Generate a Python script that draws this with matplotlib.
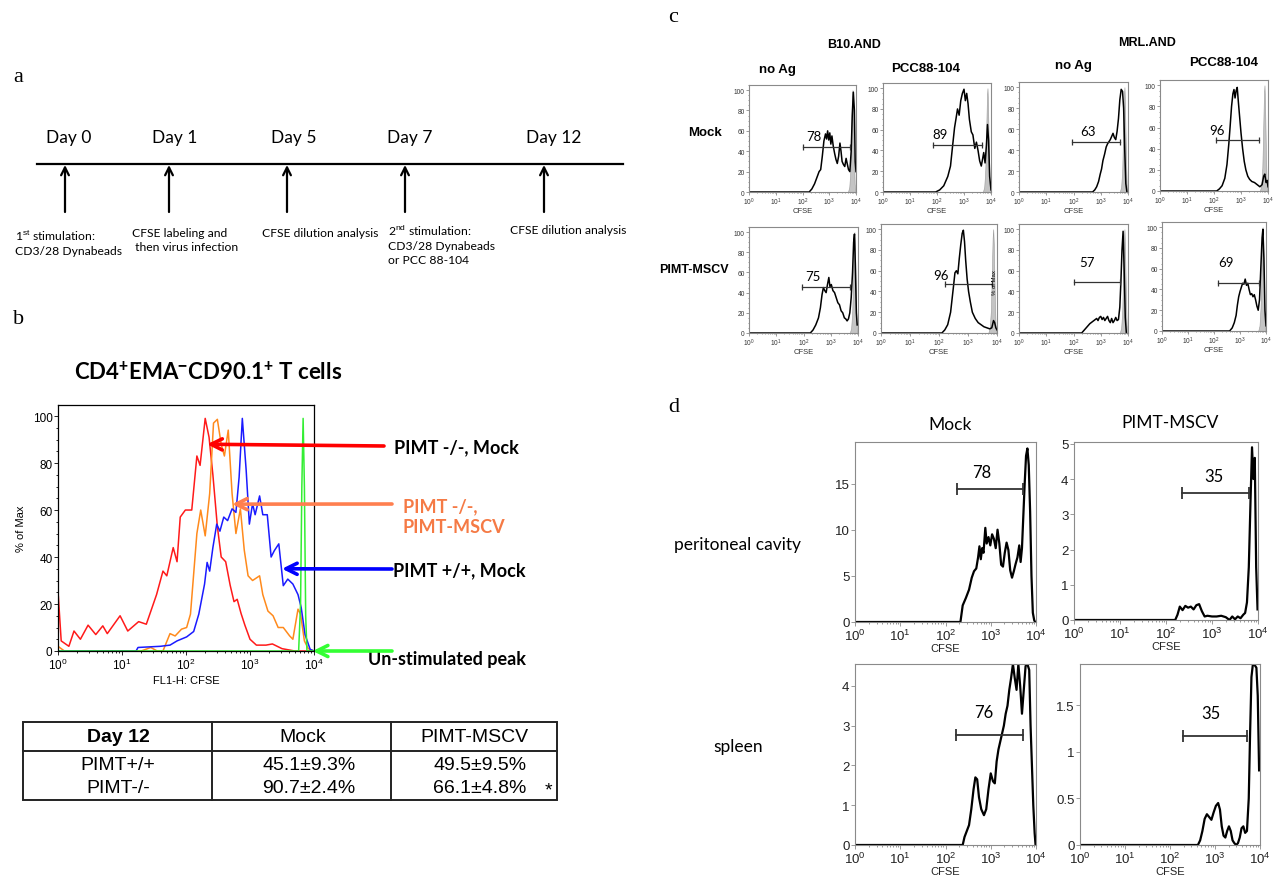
import numpy as np
import matplotlib
matplotlib.use("Agg")
import matplotlib.pyplot as plt
from matplotlib.patches import Rectangle
from matplotlib.ticker import LogLocator, NullFormatter, FuncFormatter, MultipleLocator

plt.rcParams['font.family'] = ['Liberation Sans', 'DejaVu Sans']
plt.rcParams['mathtext.fontset'] = 'custom'
plt.rcParams['mathtext.rm'] = 'Liberation Sans'
plt.rcParams['mathtext.it'] = 'Liberation Sans:italic'
plt.rcParams['mathtext.bf'] = 'Liberation Sans:bold'

CAL = 'Lato'
SERIF = 'Liberation Serif'

# ---- panel a: timeline ----
A_DAYS = ['Day 0', 'Day 1', 'Day 5', 'Day 7', 'Day 12']
A_NOTES = ['1$^{\\rm st}$ stimulation:\nCD3/28 Dynabeads',
           'CFSE labeling and\n then virus infection',
           'CFSE dilution analysis',
           '2$^{\\rm nd}$ stimulation:\nCD3/28 Dynabeads\nor PCC 88-104',
           'CFSE dilution analysis']

# ---- panel b: overlaid CFSE histograms (log10 CFSE, % of max) ----
B_RED_LX = [0.0, 0.005, 0.05, 0.17, 0.25, 0.35, 0.47, 0.59, 0.70, 0.77, 0.97, 1.09, 1.26, 1.38,
            1.54, 1.64, 1.70, 1.80, 1.86, 1.91, 1.99, 2.09, 2.17, 2.22, 2.30, 2.36, 2.42, 2.49,
            2.55, 2.62, 2.69, 2.75, 2.80, 2.86, 2.92, 3.00, 3.10, 3.25, 3.35, 3.50, 3.70, 4.00]
B_RED_Y = [0, 23.5, 4.3, 2, 8.5, 5, 11, 7, 10.7, 7.4, 15, 8.5, 12.5, 11.4,
           24, 34, 32, 44, 38, 57, 60, 60, 83, 79, 99, 91, 75, 53,
           40, 38, 28, 21, 22, 16, 11, 5, 2.5, 2.5, 3, 1, 0, 0]
B_ORANGE_LX = [0.0, 0.05, 0.1, 1.3, 1.45, 1.55, 1.64, 1.75, 1.83, 1.93, 2.01, 2.07, 2.17, 2.23,
               2.30, 2.37, 2.43, 2.49, 2.55, 2.60, 2.66, 2.72, 2.78, 2.85, 2.91, 2.97, 3.04, 3.15,
               3.20, 3.28, 3.36, 3.44, 3.52, 3.62, 3.67, 3.75, 3.79, 3.85, 3.91, 4.0]
B_ORANGE_Y = [2, 1, 0, 0, 1.5, 0, 0, 7.4, 6.4, 9.3, 10, 15.7, 50, 60,
              49, 67, 97, 98.6, 88, 83, 94, 67, 50, 60.5, 43, 32, 30, 32,
              24, 17, 15, 10, 10, 6.4, 5, 17.8, 15.7, 4.3, 1, 0]
B_BLUE_LX = [0.0, 1.22, 1.25, 1.6, 1.75, 1.86, 2.01, 2.12, 2.20, 2.29, 2.33, 2.37, 2.42, 2.48,
             2.53, 2.59, 2.65, 2.72, 2.78, 2.83, 2.88, 2.94, 2.99, 3.04, 3.08, 3.15, 3.20, 3.27,
             3.33, 3.38, 3.45, 3.52, 3.59, 3.67, 3.75, 3.80, 3.86, 3.94, 4.0]
B_BLUE_Y = [0, 0, 1.5, 2, 2.5, 4.3, 6, 8.3, 15.7, 28.5, 37.7, 34, 44, 54,
            51, 57, 55.5, 60.5, 59, 74, 99, 77, 54, 62.7, 58, 66, 58, 58,
            40, 42.7, 45.6, 27.8, 30.6, 28.5, 24, 18.5, 7, 0.7, 0]
B_GREEN_LX = [0.0, 3.76, 3.79, 3.81, 3.83, 3.85, 3.87, 3.89, 4.0]
B_GREEN_Y = [0, 0, 20, 70, 99, 70, 15, 0, 0]
B_LABELS = ['PIMT -/-, Mock', 'PIMT -/-,\nPIMT-MSCV', 'PIMT +/+, Mock', 'Un-stimulated peak']

# ---- table ----
T_HEAD = ['Day 12', 'Mock', 'PIMT-MSCV']
T_ROWS = ['PIMT+/+', 'PIMT-/-']
T_MOCK = ['45.1\u00b19.3%', '90.7\u00b12.4%']
T_MSCV = ['49.5\u00b19.5%', '66.1\u00b14.8%']
T_MARK = ['', '*']

# ---- panel c: 2x4 grid of CFSE histograms ----
C_STRAINS = ['B10.AND', 'MRL.AND']
C_STIM = ['no Ag', 'PCC88-104', 'no Ag', 'PCC88-104']
C_ROWS = ['Mock', 'PIMT-MSCV']
C1_LX = [0, 2.25, 2.35, 2.45, 2.55, 2.62, 2.68, 2.74, 2.8, 2.86, 2.9, 2.94, 2.98, 3.02, 3.06, 3.1,
         3.15, 3.2, 3.25, 3.3, 3.35, 3.4, 3.44, 3.48, 3.53, 3.58, 3.63, 3.67, 3.72, 3.77, 3.82,
         3.86, 3.9, 3.94, 3.97, 4.0]
C1_Y = [0, 0, 3, 8, 15, 20, 22, 35, 50, 57, 52, 60, 51, 58, 47, 55,
        45, 38, 32, 28, 35, 48, 40, 30, 27, 25, 33, 28, 22, 20, 40,
        75, 98, 80, 30, 20]
C2_LX = [0, 1.95, 2.1, 2.25, 2.4, 2.5, 2.58, 2.65, 2.7, 2.76, 2.82, 2.88, 2.94, 3.0, 3.05, 3.1,
         3.15, 3.2, 3.27, 3.33, 3.4, 3.46, 3.52, 3.58, 3.64, 3.69, 3.73, 3.78, 3.83, 3.87, 3.91,
         3.95, 4.0]
C2_Y = [0, 0, 2, 6, 15, 25, 45, 62, 70, 80, 74, 88, 95, 99, 88, 95,
        85, 70, 58, 55, 42, 48, 40, 30, 25, 32, 38, 28, 45, 65, 50,
        15, 2]
C3_LX = [0, 2.7, 2.78, 2.85, 2.92, 2.98, 3.03, 3.08, 3.14, 3.2, 3.25, 3.3, 3.35, 3.4, 3.45, 3.5,
         3.55, 3.6, 3.65, 3.7, 3.75, 3.8, 3.84, 3.88, 3.92, 3.96]
C3_Y = [0, 0, 2, 5, 10, 17, 22, 30, 36, 43, 46, 48, 50, 53, 56, 52,
        50, 58, 70, 88, 98, 96, 80, 40, 8, 0]
C4_LX = [0, 2.1, 2.2, 2.3, 2.4, 2.48, 2.55, 2.6, 2.65, 2.7, 2.74, 2.78, 2.82, 2.86, 2.9, 2.95,
         3.0, 3.06, 3.12, 3.18, 3.25, 3.32, 3.4, 3.5, 3.6, 3.7, 3.78, 3.84, 3.88, 3.93, 3.97, 4.0]
C4_Y = [0, 0, 2, 5, 12, 25, 45, 62, 80, 92, 96, 88, 95, 98, 85, 70,
        55, 40, 28, 20, 14, 11, 9, 8, 6, 4, 6, 14, 16, 8, 10, 4]
C5_LX = [0, 2.25, 2.35, 2.45, 2.55, 2.62, 2.68, 2.73, 2.78, 2.83, 2.88, 2.93, 2.97, 3.02, 3.08,
         3.14, 3.2, 3.26, 3.32, 3.38, 3.44, 3.5, 3.55, 3.6, 3.65, 3.7, 3.75, 3.8, 3.84, 3.87, 3.9,
         3.94, 3.97]
C5_Y = [0, 0, 3, 8, 15, 25, 38, 45, 42, 40, 48, 55, 46, 48, 42,
        40, 35, 30, 28, 22, 20, 15, 14, 12, 14, 20, 35, 60, 90, 98, 70,
        20, 8]
C6_LX = [0, 2.1, 2.2, 2.3, 2.4, 2.5, 2.55, 2.6, 2.65, 2.7, 2.75, 2.8, 2.84, 2.88, 2.92, 2.97,
         3.02, 3.08, 3.15, 3.25, 3.35, 3.45, 3.55, 3.65, 3.75, 3.82, 3.88, 3.92, 3.96, 4.0]
C6_Y = [0, 0, 3, 8, 20, 45, 58, 60, 57, 72, 85, 96, 99, 88, 70, 52,
        40, 30, 20, 14, 10, 8, 6, 5, 4, 5, 12, 10, 5, 3]
C7_LX = [0, 2.3, 2.4, 2.5, 2.6, 2.7, 2.8, 2.85, 2.9, 2.95, 3.0, 3.05, 3.1, 3.15, 3.2, 3.25,
         3.3, 3.35, 3.4, 3.45, 3.5, 3.55, 3.6, 3.65, 3.7, 3.74, 3.78, 3.82, 3.86, 3.9, 3.94]
C7_Y = [0, 0, 3, 6, 9, 11, 13, 14, 12, 15, 16, 13, 15, 12, 14, 16,
        12, 10, 14, 10, 12, 15, 12, 13, 25, 50, 80, 98, 60, 15, 0]
C8_LX = [0, 2.6, 2.7, 2.78, 2.85, 2.9, 2.95, 3.0, 3.05, 3.1, 3.15, 3.2, 3.25, 3.3, 3.35, 3.4,
         3.45, 3.5, 3.55, 3.6, 3.65, 3.7, 3.75, 3.8, 3.85, 3.88, 3.92, 3.96, 4.0]
C8_Y = [0, 0, 3, 8, 15, 25, 33, 38, 42, 46, 45, 50, 44, 46, 40, 35,
        36, 33, 35, 30, 24, 20, 30, 60, 90, 98, 70, 20, 5]
C_PCT = ['78', '89', '63', '96', '75', '96', '57', '69']
C_PCT_LX = [2.41, 2.13, 2.55, 2.1, 2.35, 2.07, 2.51, 2.45]
C_PCT_Y = [55, 56, 58, 58, 56, 56, 68, 66]
C_GATE_LO = [2.0, 1.87, 1.96, 2.08, 1.95, 2.2, 2.0, 2.17]
C_GATE_HI = [3.77, 3.66, 3.72, 3.68, 3.7, 3.83, 3.7, 3.72]
C_GATE_Y = [44, 45, 48, 48, 46, 47, 49, 46]
UNSTIM_LX = [3.70, 3.75, 3.79, 3.82, 3.85, 3.87, 3.89, 3.92, 3.95, 3.98]
UNSTIM_Y = [0, 5, 22, 55, 92, 100, 85, 40, 8, 0]

# ---- panel d: in vivo CFSE histograms ----
D_COLS = ['Mock', 'PIMT-MSCV']
D_ROWS = ['peritoneal cavity', 'spleen']
D1_LX = [0, 2.33, 2.38, 2.45, 2.52, 2.58, 2.63, 2.68, 2.72, 2.75, 2.78, 2.81, 2.84, 2.88, 2.91,
         2.95, 2.99, 3.03, 3.07, 3.11, 3.15, 3.19, 3.23, 3.27, 3.31, 3.35, 3.39, 3.43, 3.47, 3.51,
         3.55, 3.59, 3.63, 3.66, 3.69, 3.72, 3.75, 3.78, 3.81, 3.84, 3.87, 3.9, 3.93, 3.96, 3.98]
D1_Y = [0, 0, 1.8, 2.6, 3.5, 4.8, 5.5, 5.8, 7.0, 8.2, 6.8, 8.0, 7.5, 10.2, 8.5,
        9.2, 8.3, 9.5, 9.0, 8.0, 10.0, 8.5, 6.2, 6.0, 7.5, 8.6, 7.8, 5.6, 4.8, 5.5,
        6.3, 7.0, 8.3, 6.5, 8.0, 11.5, 15.0, 18.0, 18.8, 17.0, 12.0, 5.0, 1.0, 0.2, 0]
D2_LX = [0, 2.2, 2.25, 2.3, 2.36, 2.42, 2.48, 2.54, 2.6, 2.66, 2.72, 2.78, 2.84, 2.9, 3.0, 3.1,
         3.2, 3.3, 3.38, 3.44, 3.5, 3.56, 3.62, 3.68, 3.72, 3.76, 3.8, 3.84, 3.87, 3.9, 3.93,
         3.96, 3.99]
D2_Y = [0, 0, 0.15, 0.38, 0.28, 0.4, 0.35, 0.38, 0.3, 0.42, 0.45, 0.25, 0.1, 0.12, 0.1, 0.1,
        0.12, 0.08, 0.0, 0.1, 0.02, 0.1, 0.05, 0.15, 0.2, 0.5, 1.5, 3.5, 4.9, 4.0, 4.6,
        1.5, 0.3]
D3_LX = [0, 2.38, 2.42, 2.47, 2.52, 2.57, 2.62, 2.66, 2.7, 2.74, 2.79, 2.85, 2.9, 2.95, 3.0,
         3.05, 3.09, 3.13, 3.17, 3.21, 3.25, 3.29, 3.33, 3.37, 3.41, 3.45, 3.49, 3.53, 3.57,
         3.61, 3.65, 3.69, 3.73, 3.77, 3.81, 3.85, 3.88, 3.91, 3.94, 3.97, 3.99]
D3_Y = [0, 0, 0.2, 0.35, 0.5, 0.9, 1.4, 1.7, 1.65, 1.2, 0.9, 0.75, 0.9, 1.4, 1.8,
        1.6, 1.55, 2.1, 2.4, 2.6, 2.8, 3.0, 3.3, 3.5, 3.9, 4.2, 4.55, 4.2, 3.9,
        4.55, 4.0, 3.3, 3.9, 4.5, 4.55, 4.4, 3.0, 2.0, 1.0, 0.3, 0.0]
D4_LX = [0, 2.62, 2.67, 2.72, 2.77, 2.82, 2.87, 2.92, 2.97, 3.02, 3.07, 3.11, 3.15, 3.19, 3.23,
         3.27, 3.31, 3.35, 3.39, 3.43, 3.47, 3.51, 3.55, 3.59, 3.63, 3.67, 3.71, 3.75, 3.78, 3.81,
         3.84, 3.88, 3.92, 3.95, 3.98]
D4_Y = [0, 0, 0.05, 0.15, 0.28, 0.33, 0.3, 0.27, 0.35, 0.42, 0.45, 0.38, 0.2, 0.1, 0.08,
        0.15, 0.2, 0.15, 0.05, 0.02, 0.0, 0.02, 0.08, 0.18, 0.2, 0.13, 0.15, 0.5, 1.2, 1.8,
        1.93, 1.93, 1.9, 1.6, 0.8]
D_PCT = ['78', '35', '76', '35']
D_PCT_LX = [2.81, 3.05, 2.84, 2.9]
D_PCT_Y = [16.2, 4.08, 3.34, 1.42]
D_GATE_LO = [2.26, 2.35, 2.23, 2.28]
D_GATE_HI = [3.71, 3.8, 3.71, 3.72]
D_GATE_Y = [14.4, 3.59, 2.77, 1.17]

W, H = 1274, 879
fig = plt.figure(figsize=(W / 100, H / 100), dpi=100)
ov = fig.add_axes([0, 0, 1, 1])
ov.set_xlim(0, W)
ov.set_ylim(H, 0)
ov.axis('off')


def box(l, t, r, b):
    return fig.add_axes([l / W, 1 - b / H, (r - l) / W, (b - t) / H])


def flow_axes(rect, ytop, yticks, fs, edge, minor_y=None):
    ax = box(*rect)
    ax.set_xscale('log')
    ax.set_xlim(1, 1e4)
    ax.set_ylim(0, ytop)
    ax.xaxis.set_major_locator(LogLocator(base=10, numticks=10))
    ax.xaxis.set_minor_locator(LogLocator(base=10, subs=np.arange(2, 10), numticks=10))
    ax.xaxis.set_major_formatter(FuncFormatter(lambda v, p: r'$10^{%d}$' % round(np.log10(v))))
    ax.xaxis.set_minor_formatter(NullFormatter())
    ax.set_yticks(yticks)
    ax.yaxis.set_major_formatter(FuncFormatter(lambda v, p: '%g' % v))
    if minor_y:
        ax.yaxis.set_minor_locator(MultipleLocator(minor_y))
    for s in ax.spines.values():
        s.set_color(edge)
        s.set_linewidth(0.8)
    ax.tick_params(which='both', direction='out', labelsize=fs, color=edge, width=0.6, pad=1)
    ax.tick_params(which='major', length=3)
    ax.tick_params(which='minor', length=1.5)
    return ax


def lg(v):
    return 10 ** np.asarray(v, dtype=float)


# ---------------- panel a ----------------
ov.text(13, 78, 'a', fontsize=16, family=SERIF, va='center')
ov.plot([37, 623], [165, 165], color='black', lw=1.6)
arrow_x = [65, 169, 287, 405, 544]
day_x = [69, 175, 294, 410, 554]
note_x = [15, 132, 262, 388, 510]
note_y = [228, 228, 228, 223, 225]
for ax_, dx, day, nx, ny, note in zip(arrow_x, day_x, A_DAYS, note_x, note_y, A_NOTES):
    ov.annotate('', xy=(ax_, 166), xytext=(ax_, 213),
                arrowprops=dict(arrowstyle='->', lw=1.6, color='black',
                                mutation_scale=14, shrinkA=0, shrinkB=0))
    ov.text(dx, 138, day, fontsize=12.5, family=CAL, ha='center', va='center')
    ov.text(nx, ny, note, fontsize=8.7, family=CAL, ha='left', va='top', linespacing=1.35)

# ---------------- panel b ----------------
ov.text(13, 320, 'b', fontsize=16, family=SERIF, va='center')
ov.text(208, 372, r'CD4$^{\mathbf{+}}$EMA$^{\mathbf{-}}$CD90.1$^{\mathbf{+}}$ T cells',
        fontsize=16, family=CAL, fontweight='bold', ha='center', va='center')
axb = flow_axes((58, 406, 314, 652), 104.7, [0, 20, 40, 60, 80, 100], 8.5, 'black', minor_y=5)
for s in axb.spines.values():
    s.set_linewidth(0.9)
axb.plot(lg(B_RED_LX), B_RED_Y, color='#ff1a1a', lw=1.1)
axb.plot(lg(B_ORANGE_LX), B_ORANGE_Y, color='#ff8a1c', lw=1.1)
axb.plot(lg(B_BLUE_LX), B_BLUE_Y, color='#1a1aff', lw=1.1)
axb.plot(lg(B_GREEN_LX), B_GREEN_Y, color='#33ee33', lw=1.1)
axb.set_xlabel('FL1-H: CFSE', fontsize=8, labelpad=2)
axb.set_ylabel('% of Max', fontsize=8, labelpad=5)

arrow_cols = ['#ff0000', '#ff7f4f', '#0000ff', '#33ff33']
text_cols = ['black', '#f57a45', 'black', 'black']
tips = [(2.33, 88), (2.72, 62.5), (3.5, 35), (3.98, 0)]
tails = [(384, 447), (392, 505), (392, 570), (392, 652)]
label_pos = [(394, 448), (403, 517), (393, 571), (368, 660)]
for lab, ac, tc, tip, tail, lp in zip(B_LABELS, arrow_cols, text_cols, tips, tails, label_pos):
    axb.annotate('', xy=(10 ** tip[0], tip[1]), xycoords='data', xytext=tail,
                 textcoords=ov.transData, annotation_clip=False,
                 arrowprops=dict(arrowstyle='->', lw=2.6, color=ac, mutation_scale=20,
                                 shrinkA=0, shrinkB=0))
    ov.text(lp[0], lp[1], lab, fontsize=13, family=CAL, fontweight='bold', color=tc,
            ha='left', va='center', linespacing=1.25)

# table
ov.add_patch(Rectangle((23, 723), 534, 78, fill=False, lw=1.4, edgecolor='#222222'))
for x in (212, 391):
    ov.plot([x, x], [723, 801], color='#222222', lw=1.4)
ov.plot([23, 557], [752, 752], color='#222222', lw=1.4)
col_x = [118, 303, 474]
for cx, h in zip(col_x, T_HEAD):
    ov.text(cx, 738, h, fontsize=14, ha='center', va='center',
            fontweight='bold' if h == 'Day 12' else 'normal')
for ry, name, m, p, mark in zip((766, 789), T_ROWS, T_MOCK, T_MSCV, T_MARK):
    ov.text(118, ry, name, fontsize=14, ha='center', va='center')
    ov.text(309, ry, m, fontsize=14, ha='center', va='center')
    ov.text(480, ry, p, fontsize=14, ha='center', va='center')
    ov.text(548, ry + 2, mark, fontsize=14, ha='center', va='center')

# ---------------- panel c ----------------
ov.text(668, 18, 'c', fontsize=16, family=SERIF, va='center')
c_rects = [(749, 86, 856, 193), (883, 84, 991, 193), (1019, 83, 1128, 193), (1160, 81, 1268, 192),
           (749, 228, 858, 334), (881, 225, 997, 334), (1019, 225, 1128, 334), (1162, 223, 1266, 332)]
c_lx = [C1_LX, C2_LX, C3_LX, C4_LX, C5_LX, C6_LX, C7_LX, C8_LX]
c_y = [C1_Y, C2_Y, C3_Y, C4_Y, C5_Y, C6_Y, C7_Y, C8_Y]
for i, rect in enumerate(c_rects):
    ax = flow_axes(rect, 105, [0, 20, 40, 60, 80, 100], 4.8, '#8a8a8a', minor_y=5)
    ax.tick_params(labelcolor='#333333')
    ax.tick_params(which='major', length=2)
    ax.tick_params(which='minor', length=1)
    ax.fill_between(lg(UNSTIM_LX), UNSTIM_Y, color='#c4c4c4', edgecolor='#9a9a9a', lw=0.4)
    ax.plot(lg(c_lx[i]), c_y[i], color='black', lw=1.1)
    ax.plot(lg([C_GATE_LO[i], C_GATE_HI[i]]), [C_GATE_Y[i]] * 2, color='#333333', lw=0.9,
            marker='|', markersize=4, markeredgewidth=0.9)
    ax.text(10 ** C_PCT_LX[i], C_PCT_Y[i], C_PCT[i], fontsize=9.5, family=CAL,
            ha='center', va='center')
    ax.set_xlabel('CFSE', fontsize=5.5, labelpad=0, color='#333333')
    if i == 5:
        ax.text(10 ** 3.9, 50, '% of Max', fontsize=4.3, rotation=90, ha='center', va='center')

ov.text(854, 45, C_STRAINS[0], fontsize=9, fontweight='bold', ha='center', va='center')
ov.text(1147, 43, C_STRAINS[1], fontsize=9, fontweight='bold', ha='center', va='center')
for cx, cy, s in zip([777, 926, 1073, 1224], [70, 69, 66, 63], C_STIM):
    ov.text(cx, cy, s, fontsize=9.5, fontweight='bold', ha='center', va='center')
ov.text(705, 133, C_ROWS[0], fontsize=9.5, fontweight='bold', ha='center', va='center')
ov.text(694, 270, C_ROWS[1], fontsize=9, fontweight='bold', ha='center', va='center')

# ---------------- panel d ----------------
ov.text(668, 408, 'd', fontsize=16, family=SERIF, va='center')
d_rects = [(855, 443, 1036, 623), (1074, 443, 1258, 621), (855, 665, 1036, 846), (1080, 665, 1260, 846)]
d_top = [19.5, 5.05, 4.55, 1.94]
d_ticks = [[0, 5, 10, 15], [0, 1, 2, 3, 4, 5], [0, 1, 2, 3, 4], [0, 0.5, 1, 1.5]]
d_lx = [D1_LX, D2_LX, D3_LX, D4_LX]
d_y = [D1_Y, D2_Y, D3_Y, D4_Y]
for i, rect in enumerate(d_rects):
    ax = flow_axes(rect, d_top[i], d_ticks[i], 9.5, '#8a8a8a')
    ax.tick_params(labelcolor='#222222')
    ax.plot(lg(d_lx[i]), d_y[i], color='black', lw=1.6)
    ax.plot(lg([D_GATE_LO[i], D_GATE_HI[i]]), [D_GATE_Y[i]] * 2, color='#333333', lw=1.3,
            marker='|', markersize=8, markeredgewidth=1.3)
    ax.text(10 ** D_PCT_LX[i], D_PCT_Y[i], D_PCT[i], fontsize=12, family=CAL,
            ha='center', va='center')
    ax.set_xlabel('CFSE', fontsize=8, labelpad=0, color='#222222')

ov.text(950, 425, D_COLS[0], fontsize=12.5, family=CAL, ha='center', va='center')
ov.text(1170, 423, D_COLS[1], fontsize=12.5, family=CAL, ha='center', va='center')
ov.text(737, 545, D_ROWS[0], fontsize=12.5, family=CAL, ha='center', va='center')
ov.text(738, 747, D_ROWS[1], fontsize=12.5, family=CAL, ha='center', va='center')

fig.savefig('out.png', dpi=100)
